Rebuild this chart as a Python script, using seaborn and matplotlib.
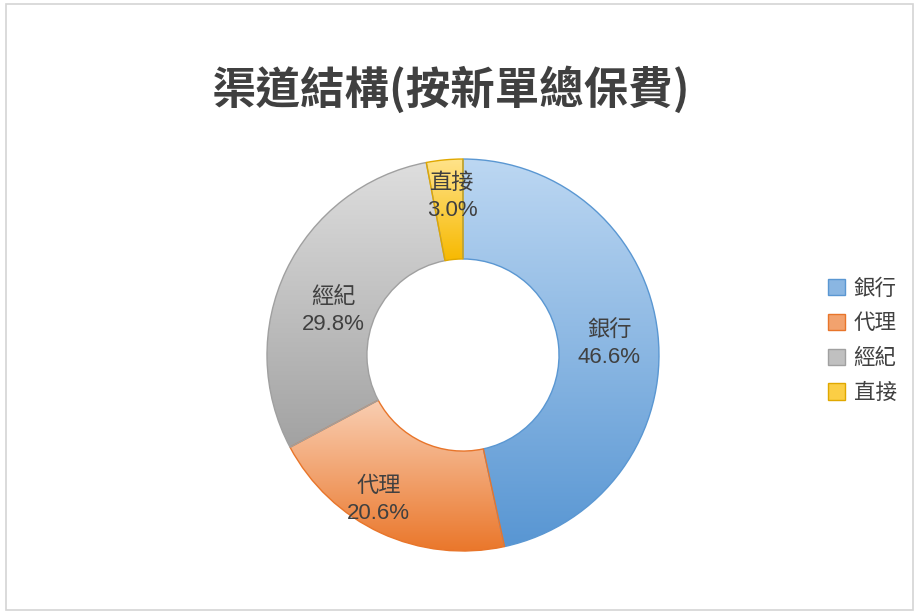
import numpy as np
import matplotlib
matplotlib.use("Agg")
import matplotlib.pyplot as plt
import matplotlib.colors as mcolors
from matplotlib.patches import Patch, Rectangle
import seaborn as sns

# Channel structure by new-business total premium

categories = ["銀行", "代理", "經紀", "直接"]
shares = [46.6, 20.6, 29.8, 3.0]
title = "渠道結構(按新單總保費)"

light_colors = ["#bcd7f2", "#f9ceb2", "#dedede", "#ffe38a"]
dark_colors = ["#5896d3", "#ea772b", "#a2a2a2", "#f7b900"]
edge_colors = ["#5a97d2", "#e8752a", "#a0a0a0", "#e0a800"]

sns.set_theme(style="white")
plt.rcParams['font.family'] = ['Noto Sans CJK TC', 'DejaVu Sans']
label_family = ['Liberation Sans', 'Noto Sans CJK TC']
text_color = "#404040"

fig = plt.figure(figsize=(9.21, 6.14), dpi=100)
fig.patches.append(Rectangle((6 / 921, 4 / 614), 907 / 921, 606 / 614,
                             transform=fig.transFigure, fill=False,
                             edgecolor="#d4d4d4", linewidth=1.2))

ax = fig.add_axes([0.2899, 0.1026, 0.4256, 0.6384])
labels = [f"{c}\n{s:.1f}%" for c, s in zip(categories, shares)]
wedges, texts = ax.pie(shares, labels=labels, startangle=90, counterclock=False,
                       radius=1.0, labeldistance=0.76,
                       wedgeprops=dict(width=0.51, linewidth=1.0),
                       textprops=dict(fontsize=16, color=text_color,
                                      family=label_family))

# vertical gradient inside every slice (light on top, dark at bottom)
for w, lc, dc, ec in zip(wedges, light_colors, dark_colors, edge_colors):
    bb = w.get_path().get_extents(w.get_patch_transform())
    c0 = np.array(mcolors.to_rgb(lc))
    c1 = np.array(mcolors.to_rgb(dc))
    t = np.linspace(0, 1, 256)[:, None]
    grad = (c0 * (1 - t) + c1 * t)[:, None, :]
    im = ax.imshow(grad, extent=[bb.x0, bb.x1, bb.y0, bb.y1], origin="upper",
                   aspect="auto", zorder=1, interpolation="bilinear")
    im.set_clip_path(w)
    w.set_facecolor("none")
    w.set_edgecolor(ec)
    w.set_zorder(2)

# small nudges so labels sit like the spreadsheet placed them (pixels)
nudges = [(-2, 5), (-22, 10), (5, 20), (3, -10)]
for t, (dx, dy) in zip(texts, nudges):
    x, y = t.get_position()
    t.set_position((x + dx / 196, y - dy / 196))
    t.set_ha("center")
    t.set_va("center")
    t.set_linespacing(1.35)
    t.set_zorder(3)

ax.set_xlim(-1.0, 1.0)
ax.set_ylim(-1.0, 1.0)
ax.set_aspect("equal")
ax.axis("off")

fig.text(0.49, 0.853, title, ha="center", va="center", fontsize=32,
         fontweight="bold", color=text_color)

handles = [Patch(facecolor=mcolors.to_hex((np.array(mcolors.to_rgb(lc)) + np.array(mcolors.to_rgb(dc))) / 2),
                 edgecolor=ec, linewidth=1.0, label=c)
           for c, lc, dc, ec in zip(categories, light_colors, dark_colors, edge_colors)]
fig.legend(handles=handles, loc="center left", bbox_to_anchor=(0.887, 0.445),
           frameon=False, fontsize=15.5, handlelength=0.8, handleheight=0.8,
           handletextpad=0.4, labelspacing=0.6, labelcolor=text_color,
           borderpad=0)

fig.savefig("out.png", dpi=100)
